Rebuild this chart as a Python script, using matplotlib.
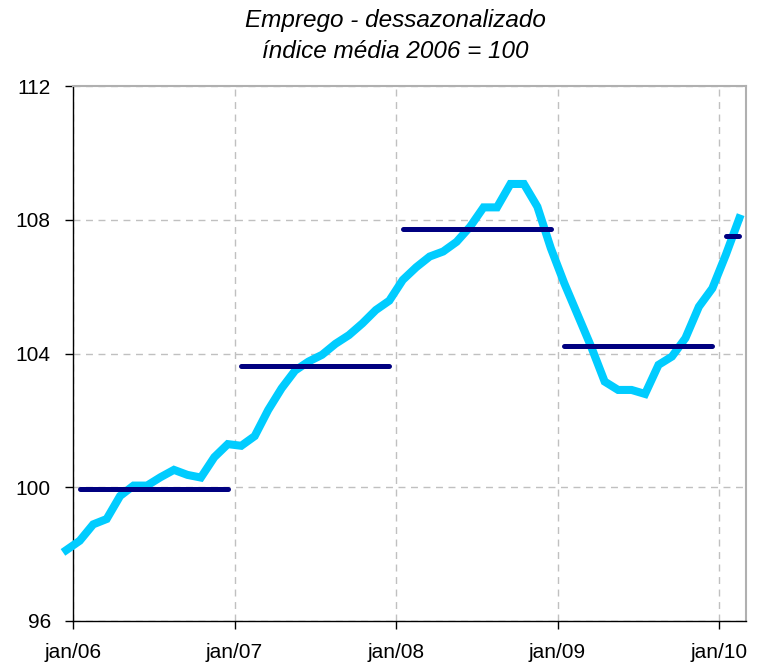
import matplotlib
matplotlib.use("Agg")
import matplotlib.pyplot as plt

plt.rcParams['font.family'] = ['Liberation Sans', 'DejaVu Sans']

# monthly employment index, dec/05 .. feb/10 (seasonally adjusted, 2006 avg = 100)
emprego = [
    98.12,
    98.40, 98.89, 99.05, 99.74, 100.05, 100.05, 100.30, 100.52, 100.37, 100.29, 100.90, 101.29,
    101.24, 101.53, 102.31, 102.96, 103.49, 103.76, 103.96, 104.29, 104.55, 104.90, 105.30, 105.58,
    106.20, 106.58, 106.90, 107.05, 107.34, 107.79, 108.37, 108.37, 109.07, 109.07, 108.39, 107.15,
    106.10, 105.15, 104.20, 103.16, 102.91, 102.91, 102.79, 103.66, 103.91, 104.46, 105.40, 105.95,
    106.95, 108.04,
]
# annual averages
anos = [2006, 2007, 2008, 2009, 2010]
media_anual = [99.95, 103.64, 107.72, 104.21, 107.50]
meses_ano = [12, 12, 12, 12, 2]

tick_labels = ['jan/06', 'jan/07', 'jan/08', 'jan/09', 'jan/10']
yticks = [96, 100, 104, 108, 112]

fig = plt.figure(figsize=(7.62, 6.67), dpi=100)
ax = fig.add_axes([73 / 762, 1 - 621 / 667, (746 - 73) / 762, (621 - 86) / 667])

# x in months since jan/06, points at mid-month
x = [i - 0.5 for i in range(len(emprego))]
ax.plot(x, emprego, color='#00CCFF', lw=5.8, solid_joinstyle='miter', clip_on=False, zorder=3)

for k, (ano, m, n) in enumerate(zip(anos, media_anual, meses_ano)):
    start = 12 * k + 0.5
    ax.plot([start, start + n - 1], [m, m], color='#000080', lw=3.6,
            solid_capstyle='round', zorder=4)

ax.set_xlim(0, 50)
ax.set_ylim(96, 112)
ax.set_xticks([0, 12, 24, 36, 48])
ax.set_xticklabels(tick_labels)
ax.set_yticks(yticks)

ax.grid(True, color='#c0c0c0', linestyle=(0, (5, 4)), lw=1)
ax.set_axisbelow(True)

for s in ['top', 'right']:
    ax.spines[s].set_color('#b0b0b0')
    ax.spines[s].set_linewidth(1.5)
for s in ['left', 'bottom']:
    ax.spines[s].set_color('black')
    ax.spines[s].set_linewidth(1)

ax.tick_params(axis='both', direction='out', length=6, width=1, labelsize=15, colors='black')
ax.tick_params(axis='x', pad=10)
ax.tick_params(axis='y', pad=10)

fig.text(395 / 762, 1 - 20 / 667, 'Emprego - dessazonalizado', ha='center', va='center',
         fontsize=17.5, style='italic')
fig.text(395 / 762, 1 - 52 / 667, 'índice média 2006 = 100', ha='center', va='center',
         fontsize=17.5, style='italic')

fig.savefig('out.png', dpi=100)
